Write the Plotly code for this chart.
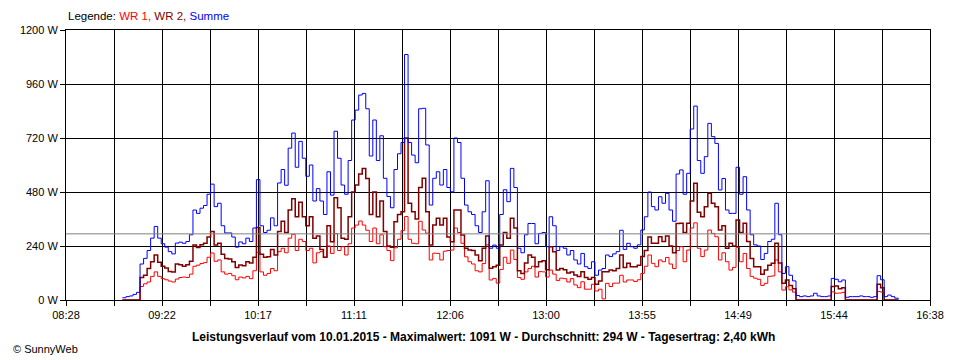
import plotly.graph_objects as go

# ---- data ----
# sampling grid: minutes after midnight, every 2 minutes from 09:00 to 16:20
zeit_min = list(range(540, 982, 2))

summe = [
    10, 15, 18, 25, 34, 160, 185, 220, 275, 327,
    275, 250, 235, 215, 205, 253, 257, 252, 260, 290,
    400, 385, 408, 420, 470, 515, 415, 430, 330, 298,
    298, 280, 235, 258, 250, 275, 260, 320, 535, 330,
    300, 310, 365, 330, 520, 580, 510, 675, 742, 590,
    705, 630, 550, 600, 440, 495, 440, 380, 570, 466,
    750, 630, 511, 470, 620, 800, 844, 911, 918, 850,
    640, 800, 620, 730, 541, 460, 410, 580, 650, 700,
    1091, 700, 644, 610, 850, 852, 689, 422, 541, 570,
    511, 580, 500, 481, 720, 700, 541, 422, 392, 380,
    330, 300, 392, 530, 230, 244, 230, 380, 490, 437,
    585, 500, 230, 210, 290, 340, 340, 250, 296, 300,
    237, 370, 330, 220, 237, 230, 200, 220, 178, 160,
    207, 148, 140, 170, 110, 133, 140, 200, 193, 205,
    215, 310, 225, 252, 237, 230, 245, 311, 370, 480,
    415, 400, 459, 430, 474, 400, 350, 560, 578, 470,
    563, 760, 862, 620, 563, 637, 785, 726, 696, 489,
    540, 400, 385, 385, 590, 470, 548, 400, 290, 245,
    240, 180, 207, 260, 270, 430, 290, 118, 148, 110,
    85, 20, 15, 18, 15, 18, 30, 18, 15, 15,
    18, 96, 92, 81, 89, 12, 15, 15, 15, 18,
    15, 15, 12, 15, 108, 90, 15, 22, 15, 8,
    3,
]

wr2 = [
    0, 0, 0, 0, 0, 100, 110, 140, 170, 200,
    168, 150, 142, 127, 125, 160, 157, 150, 157, 172,
    245, 233, 246, 252, 280, 305, 245, 252, 203, 185,
    182, 170, 145, 156, 152, 170, 165, 190, 322, 203,
    190, 192, 225, 200, 305, 350, 300, 400, 450, 370,
    435, 370, 330, 370, 275, 285, 225, 190, 330, 259,
    455, 410, 274, 270, 370, 480, 511, 560, 585, 540,
    380, 480, 370, 440, 304, 240, 235, 348, 380, 392,
    720, 430, 392, 360, 500, 541, 392, 244, 333, 363,
    333, 363, 280, 259, 400, 400, 289, 230, 222, 220,
    200, 175, 230, 285, 141, 148, 155, 244, 300, 274,
    363, 320, 130, 118, 165, 200, 190, 148, 170, 175,
    135, 237, 215, 133, 140, 135, 120, 125, 111, 105,
    126, 100, 92, 100, 70, 85, 126, 126, 133, 130,
    140, 200, 145, 163, 148, 148, 155, 193, 220, 280,
    252, 252, 281, 260, 285, 240, 210, 340, 341, 300,
    341, 440, 519, 390, 370, 415, 474, 430, 415, 311,
    330, 230, 252, 240, 356, 300, 341, 260, 185, 148,
    148, 115, 133, 155, 163, 252, 165, 74, 89, 65,
    50, 0, 0, 0, 0, 0, 0, 0, 0, 0,
    0, 60, 62, 50, 55, 0, 0, 0, 0, 0,
    0, 0, 0, 0, 70, 55, 0, 0, 0, 0,
    0,
]

wr1 = [
    0, 0, 0, 0, 0, 60, 72, 80, 105, 125,
    105, 95, 90, 84, 80, 93, 100, 102, 100, 115,
    150, 155, 162, 166, 190, 209, 172, 178, 125, 115,
    118, 108, 90, 102, 98, 105, 95, 130, 212, 125,
    110, 118, 140, 130, 215, 230, 210, 275, 292, 220,
    270, 260, 220, 230, 165, 210, 215, 190, 240, 207,
    295, 220, 237, 200, 250, 320, 333, 351, 333, 310,
    260, 320, 250, 290, 237, 220, 175, 232, 270, 308,
    371, 270, 252, 250, 350, 311, 297, 178, 208, 207,
    178, 217, 220, 222, 320, 300, 252, 192, 170, 160,
    130, 125, 162, 245, 89, 96, 75, 136, 190, 163,
    222, 180, 100, 92, 125, 140, 150, 102, 126, 125,
    102, 133, 115, 87, 97, 95, 80, 95, 67, 55,
    81, 48, 48, 70, 40, 48, 5, 74, 60, 75,
    75, 110, 80, 89, 89, 82, 90, 118, 150, 200,
    163, 148, 178, 170, 189, 160, 140, 220, 237, 170,
    222, 320, 343, 230, 193, 222, 311, 296, 281, 178,
    210, 170, 133, 145, 234, 170, 207, 140, 105, 97,
    92, 65, 74, 105, 107, 178, 125, 44, 59, 45,
    35, 0, 0, 0, 0, 0, 0, 0, 0, 0,
    0, 36, 30, 31, 34, 0, 0, 0, 0, 0,
    0, 0, 0, 0, 38, 35, 0, 0, 0, 0,
    0,
]

x_labels = ["08:28", "09:22", "10:17", "11:11", "12:06",
            "13:00", "13:55", "14:49", "15:44", "16:38"]
y_values = [0, 240, 480, 720, 960, 1200]
y_labels = ["0 W", "240 W", "480 W", "720 W", "960 W", "1200 W"]
durchschnitt = 294

titel = ("Leistungsverlauf vom 10.01.2015 - Maximalwert: 1091 W - "
         "Durchschnitt: 294 W - Tagesertrag: 2,40 kWh")

# ---- axis helpers ----
def to_min(s):
    h, m = s.split(":")
    return int(h) * 60 + int(m)

x_start = to_min(x_labels[0])
x_end = to_min(x_labels[-1])
n_div = 2 * (len(x_labels) - 1)
x_tickvals = [x_start + i * (x_end - x_start) / n_div for i in range(n_div + 1)]
x_ticktext = []
for i in range(n_div + 1):
    x_ticktext.append(x_labels[i // 2] if i % 2 == 0 else "")

FONT = "Liberation Sans, Arial, sans-serif"

fig = go.Figure()
fig.add_trace(go.Scatter(x=zeit_min, y=wr1, mode="lines", name="WR 1",
                         line=dict(color="#ff0000", width=1, shape="hv")))
fig.add_trace(go.Scatter(x=zeit_min, y=wr2, mode="lines", name="WR 2",
                         line=dict(color="#800000", width=1.5, shape="hv")))
fig.add_trace(go.Scatter(x=zeit_min, y=summe, mode="lines", name="Summe",
                         line=dict(color="#0000ff", width=1, shape="hv")))

fig.add_shape(type="line", xref="paper", yref="y", x0=0, x1=1,
              y0=durchschnitt, y1=durchschnitt,
              line=dict(color="#808080", width=1), layer="above")

axis_common = dict(showgrid=True, gridcolor="#000000", gridwidth=1,
                   showline=True, linecolor="#000000", linewidth=1, mirror=True,
                   ticks="outside", ticklen=5, tickcolor="#000000", tickwidth=1,
                   zeroline=False, fixedrange=True,
                   tickfont=dict(family=FONT, size=11, color="#000000"))

fig.update_xaxes(range=[x_start, x_end], tickmode="array",
                 tickvals=x_tickvals, ticktext=x_ticktext, **axis_common)
fig.update_yaxes(range=[0, 1200], tickmode="array",
                 tickvals=y_values, ticktext=y_labels, **axis_common)

fig.add_annotation(xref="paper", yref="paper", x=0, y=(300 - 16) / 270,
                   xanchor="left", yanchor="middle", showarrow=False,
                   text=("Legende: <span style='color:#ff0000'>WR 1,</span> "
                         "<span style='color:#800000'>WR 2,</span> "
                         "<span style='color:#0000ff'>Summe</span>"),
                   font=dict(family=FONT, size=11.5, color="#000000"))
fig.add_annotation(xref="paper", yref="paper", x=(480 - 60) / 870, y=(300 - 337) / 270,
                   xanchor="center", yanchor="middle", showarrow=False,
                   text="<b>" + titel + "</b>",
                   font=dict(family=FONT, size=12, color="#000000"))
fig.add_annotation(xref="paper", yref="paper", x=(5 - 60) / 870, y=(300 - 349) / 270,
                   xanchor="left", yanchor="middle", showarrow=False,
                   text="© SunnyWeb",
                   font=dict(family=FONT, size=11, color="#000000"))

# the page body adds an 8 px offset; margins compensate so the plot area
# lands at x 60..930, y 30..300 of the window
fig.update_layout(width=960, height=360,
                  margin=dict(l=52, r=38, t=22, b=68),
                  paper_bgcolor="#ffffff", plot_bgcolor="#ffffff",
                  showlegend=False, hovermode=False)

fig.write_html("out.html", config={"displayModeBar": False})
